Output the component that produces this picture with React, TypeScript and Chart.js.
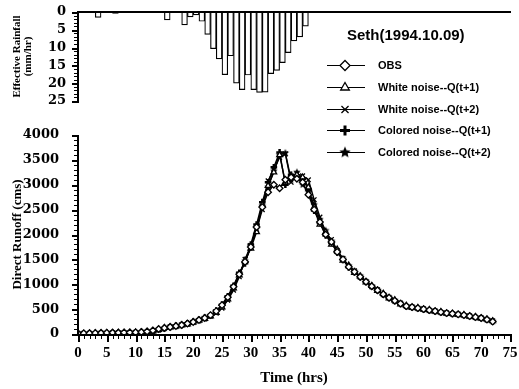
import React, { useEffect, useRef } from 'react';
import { Chart, registerables } from 'chart.js';
import { drawPoint } from 'chart.js/helpers';

Chart.register(...registerables);

// ---------- data ----------
const HOURS = [0, 1, 2, 3, 4, 5, 6, 7, 8, 9, 10, 11, 12, 13, 14, 15, 16, 17, 18, 19, 20, 21, 22, 23, 24, 25, 26, 27, 28, 29, 30, 31, 32, 33, 34, 35, 36, 37, 38, 39, 40, 41, 42, 43, 44, 45, 46, 47, 48, 49, 50, 51, 52, 53, 54, 55, 56, 57, 58, 59, 60, 61, 62, 63, 64, 65, 66, 67, 68, 69, 70, 71, 72];

const OBS = [10, 12, 15, 18, 20, 22, 25, 25, 28, 30, 32, 40, 50, 70, 100, 120, 140, 160, 180, 210, 240, 280, 320, 380, 460, 580, 740, 950, 1200, 1450, 1750, 2150, 2550, 2850, 3000, 2930, 3100, 3150, 3120, 3050, 2800, 2500, 2250, 2000, 1850, 1650, 1500, 1350, 1250, 1150, 1050, 960, 880, 800, 730, 670, 610, 560, 540, 520, 500, 480, 460, 440, 420, 410, 395, 380, 360, 340, 320, 290, 250];

const WHITE_Q1 = [12, 10, 14, 17, 20, 22, 24, 27, 26, 30, 33, 35, 45, 58, 85, 125, 135, 155, 175, 195, 235, 270, 310, 360, 430, 540, 700, 920, 1180, 1480, 1720, 2050, 2600, 2980, 3250, 3600, 3050, 3180, 3200, 3150, 2950, 2550, 2200, 2050, 1800, 1700, 1480, 1380, 1230, 1160, 1040, 970, 870, 810, 720, 680, 600, 570, 530, 525, 495, 485, 455, 445, 415, 412, 390, 383, 355, 345, 315, 295, 260];

const WHITE_Q2 = [14, 12, 12, 16, 21, 21, 26, 26, 30, 28, 35, 36, 42, 55, 80, 115, 145, 150, 185, 200, 230, 275, 300, 365, 420, 520, 680, 880, 1150, 1500, 1780, 2100, 2500, 3080, 3300, 3550, 3620, 3050, 3220, 3180, 3100, 2700, 2350, 2020, 1900, 1680, 1520, 1360, 1270, 1140, 1060, 950, 890, 790, 740, 660, 620, 555, 545, 515, 505, 475, 465, 435, 425, 405, 400, 375, 365, 335, 325, 285, 265];

const COLORED_Q1 = [8, 13, 16, 18, 19, 23, 24, 26, 29, 31, 30, 38, 48, 62, 95, 110, 138, 165, 178, 215, 245, 285, 325, 375, 470, 590, 760, 970, 1230, 1420, 1800, 2200, 2650, 3050, 3350, 3650, 3000, 3200, 3180, 3120, 2900, 2480, 2230, 1980, 1830, 1640, 1490, 1340, 1240, 1140, 1045, 955, 875, 795, 725, 665, 605, 555, 535, 515, 495, 475, 455, 435, 418, 405, 392, 378, 358, 338, 318, 288, 248];

const COLORED_Q2 = [11, 14, 13, 19, 22, 20, 27, 24, 31, 29, 34, 42, 47, 65, 90, 118, 150, 158, 190, 205, 250, 270, 330, 370, 450, 560, 720, 930, 1210, 1470, 1760, 2120, 2580, 2950, 3280, 3600, 3640, 3100, 3250, 3000, 2850, 2600, 2300, 2080, 1870, 1660, 1510, 1370, 1260, 1170, 1060, 965, 885, 805, 735, 675, 615, 565, 548, 528, 502, 482, 462, 442, 422, 412, 398, 382, 362, 342, 322, 292, 255];

// effective rainfall: hour interval start and intensity (mm/hr)
const RAIN_HOURS = [3, 6, 11, 15, 18, 19, 20, 21, 22, 23, 24, 25, 26, 27, 28, 29, 30, 31, 32, 33, 34, 35, 36, 37, 38, 39];
const RAIN = [1.5, 0.4, 0.2, 2.2, 3.6, 1.4, 0.8, 2.6, 6.3, 10.3, 13.2, 17.6, 12.3, 20.0, 21.8, 17.7, 21.8, 22.6, 22.5, 17.3, 16.4, 14.2, 11.4, 8.1, 7.0, 4.0];

const SERIES_LABELS = ['OBS', 'White noise--Q(t+1)', 'White noise--Q(t+2)', 'Colored noise--Q(t+1)', 'Colored noise--Q(t+2)'];
const LEGEND_TITLE = 'Seth(1994.10.09)';

// ---------- helpers ----------
function makeStar(r: number) {
  const size = Math.ceil(r * 2) + 2;
  const c = document.createElement('canvas');
  c.width = size;
  c.height = size;
  const g = c.getContext('2d')!;
  g.beginPath();
  for (let i = 0; i < 10; i++) {
    const ang = -Math.PI / 2 + (i * Math.PI) / 5;
    const rr = i % 2 === 0 ? r : r * 0.45;
    g.lineTo(size / 2 + rr * Math.cos(ang), size / 2 + rr * Math.sin(ang));
  }
  g.closePath();
  g.fillStyle = '#000';
  g.fill();
  return c;
}

function drawAxisTicks(chart: any, axes: any[]) {
  const ctx = chart.ctx;
  const area = chart.chartArea;
  const L = Math.round(area.left);
  const R = Math.round(area.right);
  const T = Math.round(area.top);
  const B = Math.round(area.bottom);
  ctx.save();
  ctx.fillStyle = '#000000';
  for (const a of axes) {
    const scale = chart.scales[a.id];
    const horiz = a.kind === 'h';
    if (horiz) {
      const y0 = a.side === 'top' ? T - 1 : B;
      ctx.fillRect(L - 1, y0, R - L + 2, 2);
    } else {
      ctx.fillRect(L - 1, T, 2, B - T + 2);
    }
    if (!a.step) continue;
    const n = Math.round((a.max - a.min) / a.step);
    for (let k = 0; k <= n; k++) {
      const v = a.min + k * a.step;
      const r = v / a.major;
      const isMajor = Math.abs(r - Math.round(r)) < 1e-6;
      const len = isMajor ? a.majorLen : a.minorLen;
      const p = Math.round(scale.getPixelForValue(v));
      if (horiz) {
        ctx.fillRect(p, B, isMajor ? 2 : 1, len + 2);
      } else {
        ctx.fillRect(L - 1 - len, p, len, isMajor ? 2 : 1);
      }
    }
  }
  ctx.restore();
}

function drawFloatLegend(chart: any, cfg: any) {
  const ctx = chart.ctx;
  ctx.save();
  ctx.fillStyle = '#000';
  ctx.textBaseline = 'middle';
  ctx.textAlign = 'left';
  ctx.font = 'bold 15px "Liberation Sans", Arial, sans-serif';
  ctx.fillText(cfg.title, cfg.titleX, cfg.titleY);
  ctx.font = 'bold 11px "Liberation Sans", Arial, sans-serif';
  chart.data.datasets.forEach((ds: any, i: number) => {
    const y = Math.round(cfg.y0 + i * cfg.gap) + 0.5;
    const m = cfg.markers[i];
    ctx.strokeStyle = '#000';
    ctx.lineWidth = 1;
    ctx.beginPath();
    ctx.moveTo(cfg.lineX0, y);
    ctx.lineTo(cfg.lineX1, y);
    ctx.stroke();
    ctx.fillStyle = m.bg;
    ctx.strokeStyle = '#000';
    ctx.lineWidth = m.bw;
    drawPoint(ctx, { pointStyle: m.style, radius: cfg.markerRadius, rotation: 0, borderWidth: m.bw } as any, cfg.markerX, y);
    ctx.fillStyle = '#000';
    ctx.fillText(ds.label, cfg.textX, y);
  });
  ctx.restore();
}

function makeDecorPlugin(pid: string, axes: any[], legend: any) {
  return {
    id: pid,
    afterDraw(chart: any) {
      drawAxisTicks(chart, axes);
      if (legend) drawFloatLegend(chart, legend);
    },
  };
}

const plainNumber = (v: any) => String(v);

export default function App() {
  const topRef = useRef<HTMLCanvasElement>(null);
  const botRef = useRef<HTMLCanvasElement>(null);

  useEffect(() => {
    const starSmall = makeStar(4);
    const starBig = makeStar(6);
    const serif = '"Liberation Serif", "Times New Roman", serif';
    const serifWide = '"DejaVu Serif", serif';

    const series = [OBS, WHITE_Q1, WHITE_Q2, COLORED_Q1, COLORED_Q2];
    const styles: any[] = [
      { pointStyle: 'rectRot', legendPointStyle: 'rectRot', bw: 1.3, lbw: 1.3, bg: '#fff' },
      { pointStyle: 'triangle', legendPointStyle: 'triangle', bw: 1.3, lbw: 1.3, bg: '#fff' },
      { pointStyle: 'crossRot', legendPointStyle: 'crossRot', bw: 1.3, lbw: 1.3, bg: '#fff' },
      { pointStyle: 'cross', legendPointStyle: 'cross', bw: 2.5, lbw: 3, bg: '#000' },
      { pointStyle: starSmall, legendPointStyle: starBig, bw: 1, lbw: 1, bg: '#000' },
    ];

    const datasets = series.map((vals, i) => ({
      label: SERIES_LABELS[i],
      data: HOURS.map((h, j) => ({ x: h, y: vals[j] })),
      borderColor: '#000',
      borderWidth: 1.4,
      tension: 0,
      pointStyle: styles[i].pointStyle,
      pointRadius: 3.3,
      pointBorderWidth: styles[i].bw,
      pointBorderColor: '#000',
      pointBackgroundColor: styles[i].bg,
    }));

    const bottom = new Chart(botRef.current!, {
      type: 'line',
      data: { datasets } as any,
      plugins: [
        makeDecorPlugin(
          'decorBottom',
          [
            { id: 'x', kind: 'h', side: 'bottom', min: 0, max: 75, step: 1, major: 5, minorLen: 3, majorLen: 6 },
            { id: 'y', kind: 'v', min: 0, max: 4000, step: 100, major: 500, minorLen: 3, majorLen: 5 },
          ],
          {
            title: LEGEND_TITLE,
            titleX: 347,
            titleY: 36,
            y0: 65,
            gap: 21.75,
            lineX0: 327,
            lineX1: 365,
            markerX: 345,
            markerRadius: 5,
            textX: 378,
            markers: styles.map((s) => ({ style: s.legendPointStyle, bw: s.lbw, bg: s.bg })),
          }
        ),
      ],
      options: {
        responsive: false,
        animation: false,
        layout: { padding: { top: 135, right: 9, left: 0, bottom: 0 } },
        plugins: {
          legend: { display: false },
          tooltip: { enabled: false },
        },
        scales: {
          x: {
            type: 'linear',
            min: 0,
            max: 75,
            ticks: {
              stepSize: 5,
              padding: 10,
              autoSkip: false,
              maxRotation: 0,
              color: '#000',
              font: { family: serif, weight: 'bold', size: 15 },
              callback: plainNumber,
            },
            grid: { display: false, drawTicks: false },
            border: { display: false },
            title: {
              display: true,
              text: 'Time (hrs)',
              color: '#000',
              font: { family: serif, weight: 'bold', size: 15 },
              padding: { top: 0, bottom: 2 },
            },
            afterFit: (s: any) => {
              s.height = 55;
              s.paddingLeft = 0;
              s.paddingRight = 0;
            },
          },
          y: {
            type: 'linear',
            min: 0,
            max: 4000,
            ticks: {
              stepSize: 500,
              padding: 19,
              autoSkip: false,
              color: '#000',
              font: { family: serifWide, weight: 'bold', size: 13 },
              callback: plainNumber,
            },
            grid: { display: false, drawTicks: false },
            border: { display: false },
            title: {
              display: true,
              text: 'Direct Runoff (cms)',
              color: '#000',
              font: { family: serif, weight: 'bold', size: 13 },
              padding: { top: 10, bottom: 0 },
            },
            afterFit: (s: any) => {
              s.width = 78;
              s.paddingTop = 0;
              s.paddingBottom = 0;
            },
          },
        },
      } as any,
    });

    const top = new Chart(topRef.current!, {
      type: 'bar',
      data: {
        datasets: [
          {
            data: RAIN_HOURS.map((h, i) => ({ x: h + 0.5, y: RAIN[i] })),
            backgroundColor: '#fff',
            borderColor: '#000',
            borderWidth: 1.2,
            barPercentage: 1,
            categoryPercentage: 1,
          },
        ],
      } as any,
      plugins: [
        makeDecorPlugin(
          'decorTop',
          [
            { id: 'x', kind: 'h', side: 'top' },
            { id: 'y', kind: 'v', min: 0, max: 25, step: 1, major: 5, minorLen: 3, majorLen: 5 },
          ],
          null
        ),
      ],
      options: {
        responsive: false,
        animation: false,
        layout: { padding: { top: 12, bottom: 9, left: 0, right: 9 } },
        plugins: {
          legend: { display: false },
          tooltip: { enabled: false },
        },
        scales: {
          x: {
            type: 'linear',
            position: 'top',
            min: 0,
            max: 75,
            offset: false,
            ticks: { display: false },
            grid: { display: false, drawTicks: false },
            border: { display: false },
            afterFit: (s: any) => {
              s.height = 0;
              s.paddingLeft = 0;
              s.paddingRight = 0;
            },
          },
          y: {
            type: 'linear',
            reverse: true,
            min: 0,
            max: 25,
            ticks: {
              stepSize: 5,
              padding: 12,
              autoSkip: false,
              color: '#000',
              font: { family: serifWide, weight: 'bold', size: 13 },
              callback: plainNumber,
            },
            grid: { display: false, drawTicks: false },
            border: { display: false },
            title: {
              display: true,
              text: ['Effective Rainfall', '(mm/hr)'],
              color: '#000',
              font: { family: serif, weight: 'bold', size: 11, lineHeight: 1.0 },
              padding: { top: 11.5, bottom: 0 },
            },
            afterFit: (s: any) => {
              s.width = 78;
              s.paddingTop = 0;
              s.paddingBottom = 0;
            },
          },
        },
      } as any,
    });

    return () => {
      top.destroy();
      bottom.destroy();
    };
  }, []);

  return (
    <div style={{ position: 'absolute', left: 0, top: 0, width: 519, height: 389, background: '#fff' }}>
      <canvas ref={botRef} width={519} height={389} style={{ position: 'absolute', left: 0, top: 0, display: 'block' }} />
      <canvas
        ref={topRef}
        width={519}
        height={110}
        style={{ position: 'absolute', left: 0, top: 0, display: 'block', pointerEvents: 'none' }}
      />
    </div>
  );
}
